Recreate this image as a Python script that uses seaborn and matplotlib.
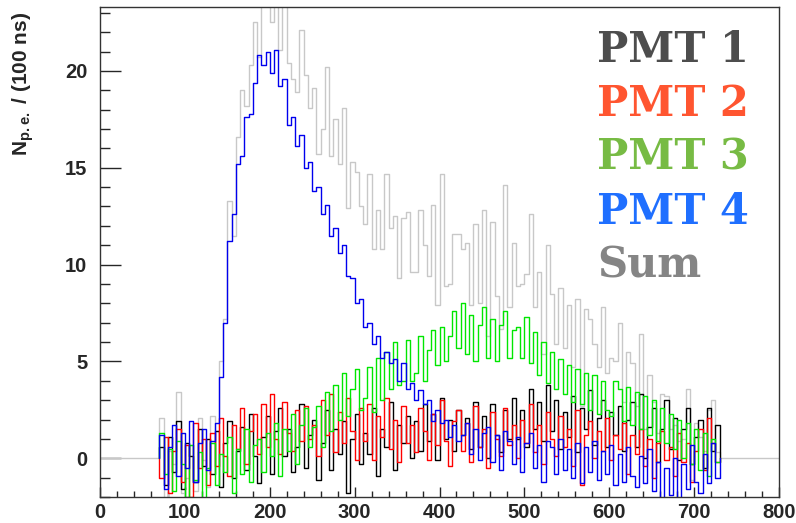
import numpy as np
import pandas as pd
import seaborn as sns
import matplotlib.pyplot as plt
from matplotlib.ticker import MultipleLocator

# bin edges (ns): 70 .. 730, 5 ns per bin
t_start, t_stop, t_bin = 70, 730, 5

# N_p.e. per bin (rows of 12 bins = 60 ns)
pmt1 = [
    0.6, -1.4, 1.1, -0.7, 1.9, -1.6, 0.8, 0.1, -1.2, 1.5, -0.4, 1.0,
    -0.8, 1.4, -1.5, 0.8, 1.9, -1.0, 0.4, 1.6, -0.6, 2.3, 0.1, -1.3,
    1.1, 2.2, -0.8, 1.4, 2.6, 0.1, 1.5, -0.7, 0.6, 2.8, -0.5, 1.2,
    2.0, -1.1, 0.8, 2.5, -0.6, 1.5, 0.2, 1.9, -1.8, 1.0, 2.3, -0.3,
    1.3, 0.2, 2.6, -0.9, 1.5, 0.6, 2.9, -0.6, 1.7, 0.8, 2.2, 0.0,
    1.9, 0.4, 2.8, 0.9, 2.3, -0.1, 3.1, 1.0, 2.0, 0.4, 2.5, 1.2,
    2.1, 0.5, 2.9, 0.6, 2.2, 0.0, 2.8, 1.2, 0.3, 2.5, 1.0, 3.1,
    1.0, 2.5, 0.6, 3.6, 1.5, 2.9, 0.9, 3.8, 1.4, 3.0, 0.5, 2.4,
    1.1, 3.2, 0.3, 2.6, 1.5, 3.5, 0.7, 2.1, 3.0, 0.6, 2.4, 1.2,
    2.7, 0.4, 2.0, 2.9, 0.6, 3.3, 0.0, 1.6, 2.6, -0.2, 1.5, 3.0,
    0.5, 2.1, -0.1, 1.5, 2.6, -0.3, 1.1, 2.0, -0.5, 2.6, 0.4, 1.7,
]
pmt2 = [
    -1.0, 1.1, -1.8, 0.4, 1.5, -1.2, 0.7, -2.0, 1.8, -0.5, 1.0, -1.4,
    1.3, -0.4, 2.1, 0.1, -0.9, 1.7, 0.5, 2.6, -0.3, 1.4, 2.3, 0.2,
    2.8, 0.6, 3.3, 1.0, 0.2, 2.9, 1.3, 0.4, 2.5, 0.9, 2.7, 1.0,
    1.7, 0.1, 3.0, 1.2, 3.3, 0.3, 2.4, 0.8, 3.1, 1.4, -0.1, 2.6,
    0.9, 2.8, -0.1, 2.2, 1.1, 3.1, 0.5, 2.0, -0.2, 2.7, 0.8, 1.7,
    0.3, 2.6, 1.4, -0.1, 2.3, 0.7, 3.0, 0.9, -0.4, 1.9, 2.5, 0.4,
    1.8, -0.2, 2.7, 0.6, 1.5, -0.5, 2.4, 1.0, 0.1, 2.6, 0.7, 1.7,
    0.0, 2.0, 0.8, 2.8, 0.3, 1.7, -0.3, 2.4, 1.0, 0.1, 2.2, 0.6,
    1.5, -0.4, 2.5, -1.4, 1.2, 1.9, 0.0, 1.4, 0.4, 2.1, -0.1, 1.2,
    0.5, 1.8, -0.8, 1.2, 0.2, 1.5, -0.4, 1.0, -1.0, 0.8, 1.4, -0.1,
    0.6, -0.9, 1.3, -0.2, 0.8, -1.2, 0.4, 1.5, -0.6, 2.1, 0.8, -0.2,
]
pmt3 = [
    1.3, -0.8, 0.5, -1.7, 0.9, -0.3, -2.0, 0.7, -1.1, 0.3, -2.2, -0.5,
    0.8, -1.4, 0.2, -0.7, 1.1, -1.8, 0.5, -0.8, 1.5, -1.2, 0.7, 1.0,
    -0.7, 1.3, 0.1, 1.8, -0.9, 1.5, 0.4, 2.3, -0.3, 1.7, 2.6, 0.6,
    1.6, 2.7, 0.6, 3.4, 1.4, 3.8, 2.0, 4.4, 2.2, 3.6, 4.6, 2.5,
    3.1, 4.7, 2.4, 5.2, 3.0, 5.5, 3.6, 6.0, 3.8, 4.0, 6.1, 4.0,
    4.4, 6.3, 4.0, 5.6, 6.6, 4.8, 6.8, 5.0, 6.3, 7.6, 5.7, 8.0,
    5.4, 7.4, 5.0, 6.9, 7.8, 5.2, 7.2, 5.0, 6.9, 7.6, 5.2, 6.6,
    6.8, 5.2, 7.3, 4.9, 6.5, 4.3, 6.0, 3.9, 5.5, 3.6, 5.1, 3.3,
    4.8, 2.9, 4.6, 2.8, 4.4, 2.5, 4.3, 2.3, 4.0, 2.5, 2.2, 4.0,
    3.6, 1.9, 3.7, 1.7, 3.4, 1.5, 3.2, 1.2, 3.0, 0.9, 2.6, 0.8,
    2.3, 0.5, 2.0, 0.0, 1.8, -0.3, 1.5, -0.6, 1.3, -0.9, 1.0, -0.2,
]
pmt4 = [
    1.2, -1.6, 0.6, 1.7, -0.9, 1.3, -0.5, 1.9, -1.2, 0.8, 1.5, -0.6,
    0.9, 1.8, 4.2, 7.0, 11.2, 12.6, 15.2, 15.6, 17.6, 17.8, 19.4, 20.8,
    20.3, 21.0, 19.9, 21.1, 19.2, 19.6, 17.2, 17.6, 16.1, 16.7, 15.0, 15.3,
    13.8, 14.0, 12.6, 13.1, 11.5, 11.9, 10.6, 11.0, 9.4, 9.3, 8.0, 8.2,
    6.8, 7.0, 5.9, 6.3, 5.2, 5.5, 4.9, 5.1, 4.0, 4.9, 3.6, 3.9,
    3.0, 3.5, 2.8, 3.0, 1.9, 2.5, 1.8, 2.0, 1.1, 1.7, 0.9, 1.2,
    1.8, 0.2, 1.5, -0.1, 1.3, 1.6, -0.2, 1.2, -0.6, 1.4, 0.9, -0.3,
    1.1, -0.7, 0.8, 1.3, -0.5, 0.7, -1.2, 0.9, 0.6, -0.8, 1.0, -0.6,
    0.5, -1.0, 0.8, -1.3, 0.6, -0.7, 0.9, -1.1, 0.4, -0.8, 0.7, -1.4,
    0.2, -1.2, 0.6, -0.9, -1.5, 0.1, -1.3, 0.5, -1.7, -0.2, -2.2, -0.5,
    -1.9, 0.0, -2.3, -0.3, -1.6, 0.7, -1.2, -1.8, 0.2, -1.3, 0.8, -1.0,
]

labels = ["PMT 1", "PMT 2", "PMT 3", "PMT 4", "Sum"]
line_colors = ["#000000", "#ff0000", "#00e600", "#0000ee", "#c8c8c8"]
text_colors = ["#4d4d4d", "#ff5530", "#77bb44", "#1f6fff", "#858585"]

edges = np.arange(t_start, t_stop + t_bin, t_bin)
sum_all = np.array(pmt1) + np.array(pmt2) + np.array(pmt3) + np.array(pmt4)


def hist_frame(vals, lo=None, hi=None):
    """step outline of a histogram, zero outside the filled range"""
    x = list(edges)
    y = list(vals) + [vals[-1]]
    if lo is None:
        x = [edges[0]] + x + [edges[-1]]
        y = [0.0] + y + [0.0]
    else:
        x = [lo] + x + [hi]
        y = [0.0] + list(vals) + [0.0, 0.0]
    return pd.DataFrame({"t": x, "n": y})


sns.set_style("ticks")
plt.rcParams["font.family"] = ["Liberation Sans", "DejaVu Sans"]
plt.rcParams["mathtext.fontset"] = "custom"
plt.rcParams["mathtext.rm"] = "Liberation Sans"
plt.rcParams["mathtext.bf"] = "Liberation Sans:bold"

fig = plt.figure(figsize=(7.96, 5.23), dpi=100)
ax = fig.add_axes([100 / 796, 26 / 523, 679 / 796, 490 / 523])

# sum first (grey, behind), then the four PMTs
series = [(sum_all, 4, True), (pmt1, 0, False), (pmt2, 1, False),
          (pmt3, 2, False), (pmt4, 3, False)]
for vals, ci, pad in series:
    if pad:
        df = hist_frame(vals, 0, 800)
    else:
        df = hist_frame(vals)
    sns.lineplot(data=df, x="t", y="n", ax=ax, color=line_colors[ci],
                 drawstyle="steps-post", sort=False, estimator=None,
                 linewidth=1.0)

ax.set_xlim(0, 800)
ax.set_ylim(-2, 23.3)
ax.set_xlabel("")
ax.set_ylabel("")

ax.xaxis.set_major_locator(MultipleLocator(100))
ax.xaxis.set_minor_locator(MultipleLocator(20))
ax.yaxis.set_major_locator(MultipleLocator(5))
ax.yaxis.set_minor_locator(MultipleLocator(1))
ax.tick_params(axis="x", which="major", direction="in", length=7, width=1,
               pad=4, labelsize=14.5)
ax.tick_params(axis="x", which="minor", direction="in", length=4, width=1)
ax.tick_params(axis="y", which="major", direction="in", length=15, width=1,
               pad=9, labelsize=14.5)
ax.tick_params(axis="y", which="minor", direction="in", length=7, width=1)
for lab in ax.get_xticklabels() + ax.get_yticklabels():
    lab.set_fontweight("bold")
for s in ax.spines.values():
    s.set_color("#333333")
    s.set_linewidth(1.0)

fig.text(23 / 796, 1 - 12 / 523, r"$\mathbf{N_{p.e.}}$ / (100 ns)",
         rotation=90, ha="center", va="top", fontsize=15, fontweight="bold")

# coloured text legend
for i, (lab, c) in enumerate(zip(labels, text_colors)):
    ax.text(597 / 796, 1 - (62 + 54 * i) / 523, lab, transform=fig.transFigure,
            color=c, fontsize=30, fontweight="bold", family="DejaVu Serif",
            ha="left", va="baseline")

fig.savefig("out.png", dpi=100)
